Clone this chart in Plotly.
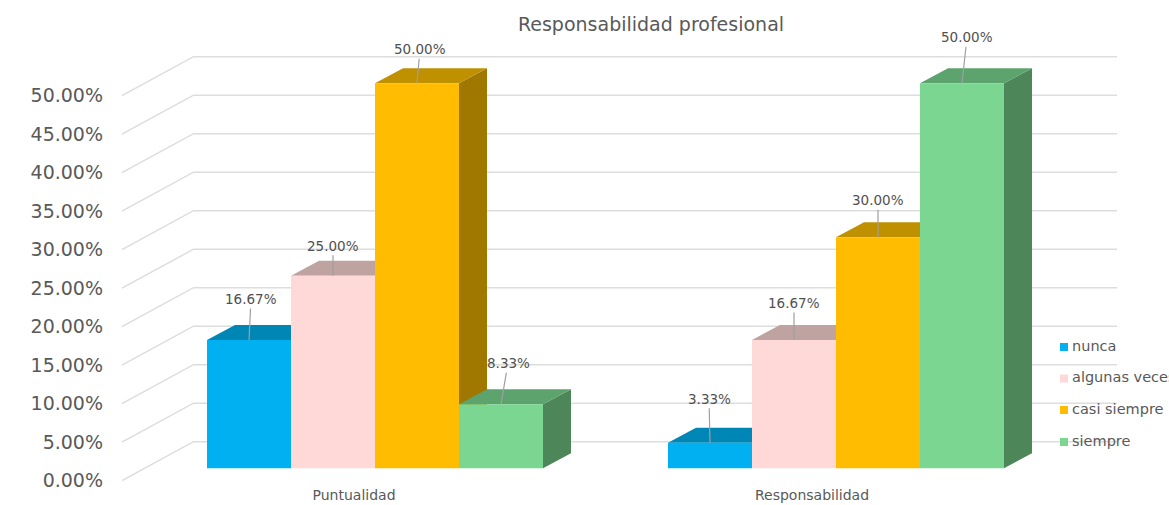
import plotly.graph_objects as go

# ---- data ----
title = "Responsabilidad profesional"
categories = ["Puntualidad", "Responsabilidad"]
series_names = ["nunca", "algunas veces", "casi siempre", "siempre"]
nunca = [16.67, 3.33]
algunas_veces = [25.00, 16.67]
casi_siempre = [50.00, 30.00]
siempre = [8.33, 50.00]
series_values = [nunca, algunas_veces, casi_siempre, siempre]
y_ticks = [0, 5, 10, 15, 20, 25, 30, 35, 40, 45, 50]
y_tick_labels = ["0.00%", "5.00%", "10.00%", "15.00%", "20.00%", "25.00%",
                 "30.00%", "35.00%", "40.00%", "45.00%", "50.00%"]

# ---- style ----
front_colors = ["#00B0F0", "#FFD9D7", "#FFBC00", "#7BD691"]
top_colors = ["#0086B5", "#BFA3A1", "#BF9000", "#5CA36D"]
side_colors = ["#007FAD", "#A89090", "#A07800", "#4D8759"]
grid_color = "#DDDDDD"
text_color = "#595959"
font = "DejaVu Sans"

W, H = 1169, 505
PLOT_LEFT = 122
PLOT_BOTTOM = 485
PX_PER_UNIT = 7.7
ZERO_PX = 480.7             # front-wall zero line
BAR_ZERO_PX = 468.3         # zero of the bar front faces
BACK_RISE = 39 / PX_PER_UNIT
BACK_RUN = 71.5
DEPTH_RUN = 28
DEPTH_RISE = 15 / PX_PER_UNIT
BAR_LIFT = (ZERO_PX - BAR_ZERO_PX) / PX_PER_UNIT
SLOT = 84
group_starts = [207, 668]
category_centers = [354, 812]
GRID_RIGHT = 1117

# label offsets (px) per series/group: ax, ay from the top-centre of each bar
label_offsets = [
    [(2, -41), (-1, -44)],
    [(0, -30), (0, -37)],
    [(3, -34), (0, -37)],
    [(7, -41), (5, -46)],
]
legend_x = 1064
legend_text_x = 1072
legend_rows_px = [347, 378.5, 410, 442]

y_low = (ZERO_PX - PLOT_BOTTOM) / PX_PER_UNIT
y_high = ZERO_PX / PX_PER_UNIT

fig = go.Figure()

# walls: one polyline per tick
for v in y_ticks:
    fig.add_trace(go.Scatter(
        x=[PLOT_LEFT, PLOT_LEFT + BACK_RUN, GRID_RIGHT],
        y=[v, v + BACK_RISE, v + BACK_RISE],
        mode="lines", line=dict(color=grid_color, width=1.5),
        hoverinfo="skip", showlegend=False, yaxis="y"))

# depth faces (drawn on the base subplot, bar fronts overlay them)
for g, start in enumerate(group_starts):
    for s, values in enumerate(series_values):
        x0 = start + s * SLOT
        x1 = x0 + SLOT
        v = values[g] + BAR_LIFT
        b = BAR_LIFT
        fig.add_trace(go.Scatter(
            x=[x1, x1 + DEPTH_RUN, x1 + DEPTH_RUN, x1, x1],
            y=[b, b + DEPTH_RISE, v + DEPTH_RISE, v, b],
            fill="toself", fillcolor=side_colors[s], mode="lines",
            line=dict(width=0, color=side_colors[s]),
            hoverinfo="skip", showlegend=False))
        fig.add_trace(go.Scatter(
            x=[x0, x1, x1 + DEPTH_RUN, x0 + DEPTH_RUN, x0],
            y=[v, v, v + DEPTH_RISE, v + DEPTH_RISE, v],
            fill="toself", fillcolor=top_colors[s], mode="lines",
            line=dict(width=0, color=top_colors[s]),
            hoverinfo="skip", showlegend=False))

# bar fronts on the overlaying axis, whose zero sits at the front of the bars
for s, (name, values) in enumerate(zip(series_names, series_values)):
    fig.add_trace(go.Bar(
        x=[start + (s + 0.5) * SLOT for start in group_starts],
        y=values, width=SLOT, name=name,
        marker=dict(color=front_colors[s], line=dict(width=0)),
        yaxis="y2", showlegend=False))

# legend rows
for s, name in enumerate(series_names):
    row = (ZERO_PX - legend_rows_px[s]) / PX_PER_UNIT
    fig.add_trace(go.Scatter(
        x=[legend_x], y=[row], mode="markers",
        marker=dict(symbol="square", size=8, color=front_colors[s], line=dict(width=0)),
        hoverinfo="skip", showlegend=False, yaxis="y"))
    fig.add_trace(go.Scatter(
        x=[legend_text_x], y=[row], mode="text", text=[name], textposition="middle right",
        textfont=dict(family=font, size=14.5, color=text_color),
        hoverinfo="skip", showlegend=False, yaxis="y"))

# data labels with leader lines
annotations = []
for s, values in enumerate(series_values):
    for g, start in enumerate(group_starts):
        ax, ay = label_offsets[s][g]
        annotations.append(dict(
            x=start + (s + 0.5) * SLOT, y=values[g], xref="x", yref="y2",
            text=f"{values[g]:.2f}%", showarrow=True, arrowhead=0, arrowwidth=1.2,
            arrowcolor="#A0A0A0", ax=ax, ay=ay, axref="pixel", ayref="pixel",
            font=dict(family=font, size=13.5, color="#505050")))

fig.update_layout(
    width=W, height=H,
    margin=dict(l=PLOT_LEFT, r=0, t=0, b=H - PLOT_BOTTOM, pad=0),
    paper_bgcolor="white", plot_bgcolor="white",
    barmode="overlay", showlegend=False,
    title=dict(text=title, x=651 / W, xanchor="center", y=1 - 24 / H, yanchor="middle",
               font=dict(family=font, size=19, color=text_color)),
    xaxis=dict(range=[PLOT_LEFT, W], tickmode="array", tickvals=category_centers,
               ticktext=categories, showgrid=False, zeroline=False, showline=False,
               ticks="", ticklabelstandoff=0,
               tickfont=dict(family=font, size=14, color=text_color)),
    yaxis=dict(range=[y_low, y_high], tickmode="array", tickvals=y_ticks,
               ticktext=y_tick_labels, showgrid=False, zeroline=False,
               showline=False, ticks="", ticklabelstandoff=18,
               tickfont=dict(family=font, size=19, color=text_color)),
    yaxis2=dict(range=[y_low - BAR_LIFT, y_high - BAR_LIFT], overlaying="y", visible=False),
    annotations=annotations,
)

# the page must start at the window's corner
fig.write_html("out.html", config=dict(displayModeBar=False),
               post_script="document.body.style.margin='0';")
